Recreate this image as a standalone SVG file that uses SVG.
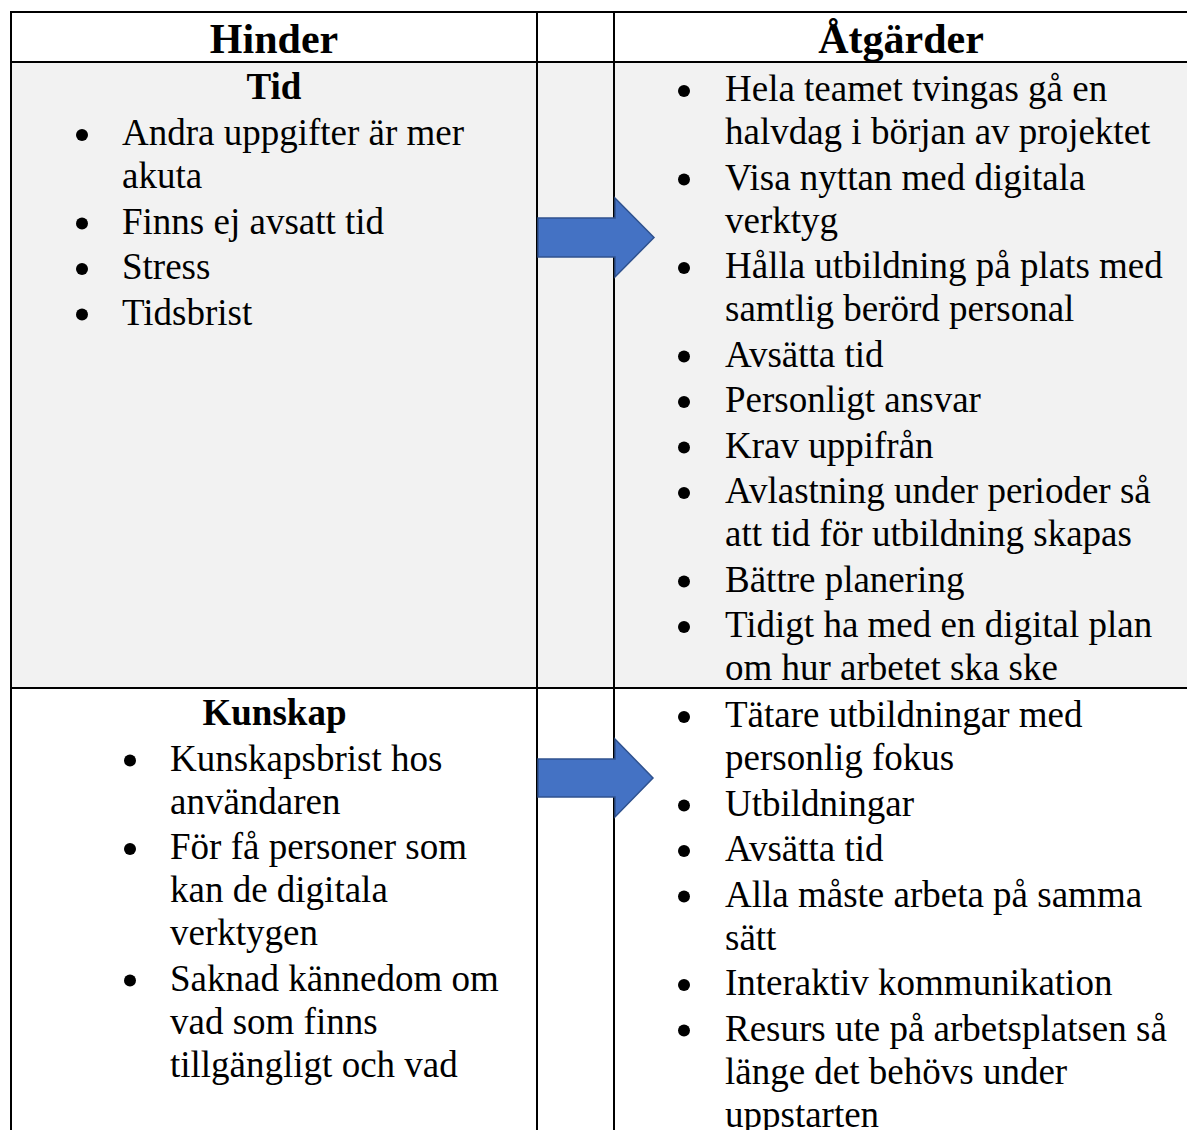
<svg xmlns="http://www.w3.org/2000/svg" width="1187" height="1130" viewBox="0 0 1187 1130">
  <style>
    .t { font-family: "Liberation Serif", "Times New Roman", serif; font-size: 37px; fill: #000; }
    .h { font-family: "Liberation Serif", "Times New Roman", serif; font-size: 42px; font-weight: bold; fill: #000; text-anchor: middle; }
    .b { font-family: "Liberation Serif", "Times New Roman", serif; font-size: 37px; font-weight: bold; fill: #000; text-anchor: middle; }
    .grid { stroke: #000; stroke-width: 2; fill: none; }
    .arrow { fill: #4472c4; stroke: #2f528f; stroke-width: 1.5; stroke-linejoin: miter; }
  </style>
  <defs>
    <circle id="dot" r="6" fill="#000"/>
  </defs>

  <rect x="0" y="0" width="1187" height="1130" fill="#fff"/>
  <!-- shaded first body row -->
  <rect x="11" y="62" width="1176" height="626" fill="#f2f2f2"/>

  <!-- table rules -->
  <g id="grid" class="grid">
    <line x1="10" y1="12" x2="1187" y2="12"/>
    <line x1="11" y1="11" x2="11" y2="1130"/>
    <line x1="10" y1="62" x2="1187" y2="62"/>
    <line x1="10" y1="688" x2="1187" y2="688"/>
    <line x1="537" y1="11" x2="537" y2="1130"/>
    <line x1="614" y1="11" x2="614" y2="1130"/>
  </g>

  <g id="header-hinder">
    <text class="h" x="274" y="53">Hinder</text>
  </g>
  <g id="header-atgarder">
    <text class="h" x="901" y="53">Åtgärder</text>
  </g>

  <g id="hinder-tid" transform="translate(0,1)">
    <text class="b" x="274" y="98">Tid</text>
    <use href="#dot" x="82" y="134"/>
    <text class="t" x="122" y="144">Andra uppgifter är mer</text>
    <text class="t" x="122" y="187">akuta</text>
    <use href="#dot" x="82" y="222.5"/>
    <text class="t" x="122" y="232.5">Finns ej avsatt tid</text>
    <use href="#dot" x="82" y="268"/>
    <text class="t" x="122" y="278">Stress</text>
    <use href="#dot" x="82" y="313.5"/>
    <text class="t" x="122" y="323.5">Tidsbrist</text>
  </g>

  <g id="atgarder-tid" transform="translate(0,1)">
    <use href="#dot" x="684" y="90"/>
    <text class="t" x="725" y="100">Hela teamet tvingas gå en</text>
    <text class="t" x="725" y="143">halvdag i början av projektet</text>
    <use href="#dot" x="684" y="178.5"/>
    <text class="t" x="725" y="188.5">Visa nyttan med digitala</text>
    <text class="t" x="725" y="231.5">verktyg</text>
    <use href="#dot" x="684" y="267"/>
    <text class="t" x="725" y="277">Hålla utbildning på plats med</text>
    <text class="t" x="725" y="320">samtlig berörd personal</text>
    <use href="#dot" x="684" y="355.5"/>
    <text class="t" x="725" y="365.5">Avsätta tid</text>
    <use href="#dot" x="684" y="401"/>
    <text class="t" x="725" y="411">Personligt ansvar</text>
    <use href="#dot" x="684" y="446.5"/>
    <text class="t" x="725" y="456.5">Krav uppifrån</text>
    <use href="#dot" x="684" y="492"/>
    <text class="t" x="725" y="502">Avlastning under perioder så</text>
    <text class="t" x="725" y="545">att tid för utbildning skapas</text>
    <use href="#dot" x="684" y="580.5"/>
    <text class="t" x="725" y="590.5">Bättre planering</text>
    <use href="#dot" x="684" y="626"/>
    <text class="t" x="725" y="636">Tidigt ha med en digital plan</text>
    <text class="t" x="725" y="679">om hur arbetet ska ske</text>
  </g>

  <g id="hinder-kunskap" transform="translate(0,1)">
    <text class="b" x="274.5" y="724">Kunskap</text>
    <use href="#dot" x="130" y="759.5"/>
    <text class="t" x="170" y="769.5">Kunskapsbrist hos</text>
    <text class="t" x="170" y="812.5">användaren</text>
    <use href="#dot" x="130" y="848"/>
    <text class="t" x="170" y="858">För få personer som</text>
    <text class="t" x="170" y="901">kan de digitala</text>
    <text class="t" x="170" y="944">verktygen</text>
    <use href="#dot" x="130" y="979.5"/>
    <text class="t" x="170" y="989.5">Saknad kännedom om</text>
    <text class="t" x="170" y="1032.5">vad som finns</text>
    <text class="t" x="170" y="1075.5">tillgängligt och vad</text>
  </g>

  <g id="atgarder-kunskap" transform="translate(0,1)">
    <use href="#dot" x="684" y="716"/>
    <text class="t" x="725" y="726">Tätare utbildningar med</text>
    <text class="t" x="725" y="769">personlig fokus</text>
    <use href="#dot" x="684" y="804.5"/>
    <text class="t" x="725" y="814.5">Utbildningar</text>
    <use href="#dot" x="684" y="850"/>
    <text class="t" x="725" y="860">Avsätta tid</text>
    <use href="#dot" x="684" y="895.5"/>
    <text class="t" x="725" y="905.5">Alla måste arbeta på samma</text>
    <text class="t" x="725" y="948.5">sätt</text>
    <use href="#dot" x="684" y="984"/>
    <text class="t" x="725" y="994">Interaktiv kommunikation</text>
    <use href="#dot" x="684" y="1029.5"/>
    <text class="t" x="725" y="1039.5">Resurs ute på arbetsplatsen så</text>
    <text class="t" x="725" y="1082.5">länge det behövs under</text>
    <text class="t" x="725" y="1125.5">uppstarten</text>
  </g>

  <!-- block arrows linking each obstacle to its measures -->
  <g id="connectors">
    <polygon class="arrow" points="538,218 615,218 615,198 654,237.5 615,277 615,257 538,257"/>
    <polygon class="arrow" points="538,759 615,759 615,739 653,778 615,817 615,797 538,797"/>
  </g>
</svg>
